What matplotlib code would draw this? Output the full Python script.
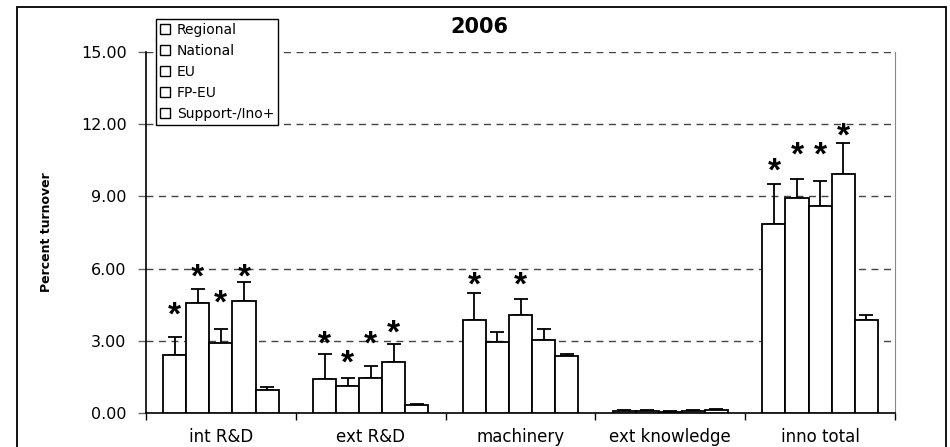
import matplotlib.pyplot as plt
from matplotlib.lines import Line2D
from matplotlib.patches import Rectangle
import numpy as np

plt.rcParams['font.family'] = ['DejaVu Sans']

# data
categories = ['int R&D', 'ext R&D', 'machinery', 'ext knowledge', 'inno total']
series = ['Regional', 'National', 'EU', 'FP-EU', 'Support-/Ino+']

# values per series (one value per category)
regional = [2.41, 1.40, 3.85, 0.08, 7.85]
national = [4.58, 1.13, 2.96, 0.08, 8.92]
eu = [2.92, 1.44, 4.07, 0.06, 8.60]
fp_eu = [4.64, 2.11, 3.02, 0.08, 9.92]
support = [0.96, 0.33, 2.35, 0.14, 3.86]

# upper end of the error bars
regional_err = [3.17, 2.46, 5.00, 0.11, 9.53]
national_err = [5.14, 1.45, 3.37, 0.11, 9.72]
eu_err = [3.48, 1.95, 4.75, 0.08, 9.63]
fp_eu_err = [5.46, 2.85, 3.48, 0.11, 11.22]
support_err = [1.08, 0.39, 2.46, 0.18, 4.08]

# height of the significance stars (None = no star)
regional_star = [4.36, 3.17, 5.60, None, 10.35]
national_star = [5.95, 2.37, None, None, 11.00]
eu_star = [4.85, 3.17, 5.60, None, 11.00]
fp_eu_star = [5.95, 3.61, None, None, 11.79]
support_star = [None, None, None, None, None]

values = [regional, national, eu, fp_eu, support]
tops = [regional_err, national_err, eu_err, fp_eu_err, support_err]
stars = [regional_star, national_star, eu_star, fp_eu_star, support_star]

fig = plt.figure(figsize=(9.5, 4.47), dpi=100)
ax = fig.add_axes([0.1537, 0.0761, 0.7884, 0.8076])

x = np.arange(len(categories))
w = 0.154
star_fs = 24

for k in range(len(series)):
    pos = x + (k - 2) * w
    v = np.array(values[k])
    up = np.array(tops[k]) - v
    ax.bar(pos, v, w, color='white', edgecolor='black', linewidth=1.3, zorder=3)
    ax.errorbar(pos, v, yerr=[np.zeros_like(up), up], fmt='none', ecolor='black',
                elinewidth=1.3, capsize=5, capthick=1.3, zorder=2)
    for p, s in zip(pos, stars[k]):
        if s is not None:
            ax.annotate('*', (p, s), xytext=(0, -0.5 * star_fs), textcoords='offset points',
                        ha='center', va='baseline', fontsize=star_fs, fontweight='bold',
                        family='Liberation Sans')

ax.set_xlim(-0.5, 4.5)
ax.set_ylim(0, 15)
ax.set_yticks([0, 3, 6, 9, 12, 15])
ax.set_yticklabels(['0.00', '3.00', '6.00', '9.00', '12.00', '15.00'], fontsize=11.5)
for yy in [3, 6, 9, 12, 15]:
    ax.axhline(yy, color='#444444', linewidth=1, dashes=(5, 4), zorder=1)

ax.set_xticks(np.arange(-0.5, 5, 1))
ax.set_xticklabels([])
ax.set_xticks(x, minor=True)
ax.set_xticklabels(categories, minor=True, fontsize=12)
ax.tick_params(axis='x', which='major', length=5, width=1, direction='out')
ax.tick_params(axis='x', which='minor', length=0, pad=11)
ax.tick_params(axis='y', length=6, width=1, color='#666666', pad=8)

ax.spines['top'].set_visible(False)
ax.spines['right'].set_color('#888888')
ax.spines['left'].set_linewidth(1.2)
ax.spines['bottom'].set_linewidth(1.2)

ax.set_ylabel('Percent turnover', fontsize=9, fontweight='bold')
ax.yaxis.set_label_coords(-0.124, 0.5)

fig.text(0.505, 0.94, '2006', ha='center', va='center', fontsize=15, fontweight='bold')

handles = [Line2D([], [], marker='s', markersize=7, markerfacecolor='white',
                  markeredgecolor='black', markeredgewidth=1, linestyle='none') for s in series]
leg = fig.legend(handles, series, loc='upper left', bbox_to_anchor=(0.164, 0.9575),
                 fontsize=10, frameon=True, fancybox=False, framealpha=1,
                 edgecolor='black', handlelength=0.7, handletextpad=0.5,
                 labelspacing=0.5, borderpad=0.3, borderaxespad=0)
leg.get_frame().set_linewidth(1)

fig.patches.append(Rectangle((0.0179, -0.05), 0.9779, 1.0343, transform=fig.transFigure,
                             fill=False, edgecolor='black', linewidth=1.3))

fig.savefig('out.png', dpi=100)
